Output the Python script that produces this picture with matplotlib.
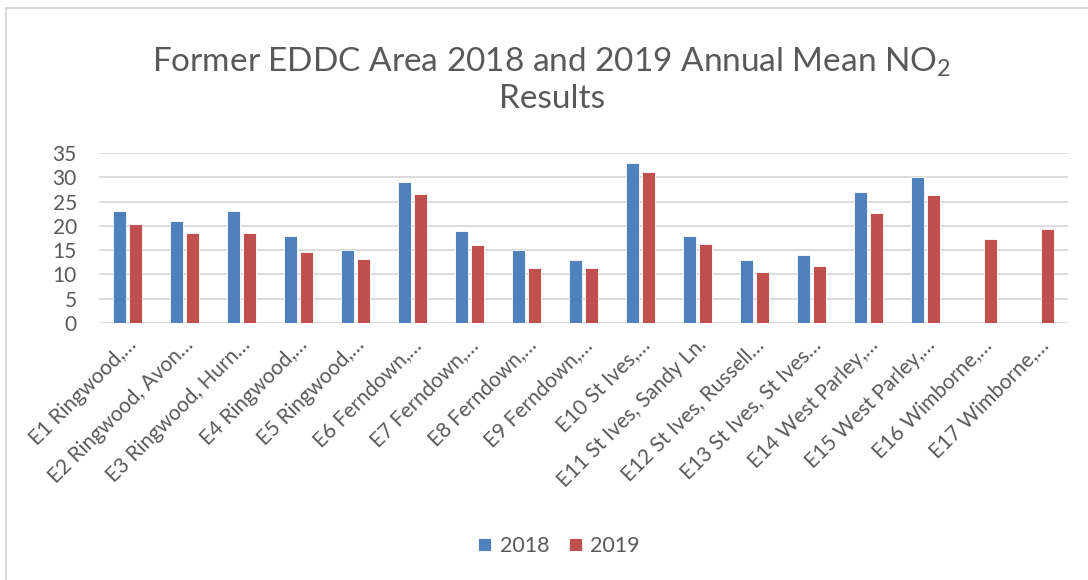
import numpy as np
import matplotlib
matplotlib.use("Agg")
import matplotlib.pyplot as plt
from matplotlib.lines import Line2D
from matplotlib.transforms import ScaledTranslation

plt.rcParams['font.family'] = ['Lato', 'DejaVu Sans']
plt.rcParams['mathtext.fontset'] = 'custom'
plt.rcParams['mathtext.rm'] = 'Lato'
plt.rcParams['mathtext.it'] = 'Lato'

sites = ["E1 Ringwood,…", "E2 Ringwood, Avon…", "E3 Ringwood, Hurn…",
         "E4 Ringwood,…", "E5 Ringwood,…", "E6 Ferndown,…", "E7 Ferndown,…",
         "E8 Ferndown,…", "E9 Ferndown,…", "E10 St Ives,…",
         "E11 St Ives, Sandy Ln.", "E12 St Ives, Russell…",
         "E13 St Ives, St Ives…", "E14 West Parley,…", "E15 West Parley,…",
         "E16 Wimborne,…", "E17 Wimborne,…"]
no2_2018 = [23, 21, 23, 18, 15, 29, 19, 15, 13, 33, 18, 13, 14, 27, 30, np.nan, np.nan]
no2_2019 = [20.4, 18.5, 18.5, 14.6, 13.2, 26.5, 16.1, 11.4, 11.3, 31.0, 16.2, 10.4, 11.7,
            22.6, 26.4, 17.3, 19.4]

text_col = "#595959"
grid_col = "#D9D9D9"

fig = plt.figure(figsize=(10.88, 5.8), dpi=100)
ax = fig.add_axes([99 / 1088, 1 - 323 / 580, (1068 - 99) / 1088, 170 / 580])

x = np.arange(len(sites))
w = 0.23
ax.bar(x - 0.14, no2_2018, w, color="#4F81BD", edgecolor="white", linewidth=0.6, label="2018", zorder=3)
ax.bar(x + 0.14, no2_2019, w, color="#C0504D", edgecolor="white", linewidth=0.6, label="2019", zorder=3)

ax.set_xlim(-0.5, len(sites) - 0.5)
ax.set_ylim(0, 35)
ax.set_yticks(range(0, 36, 5))
ax.yaxis.grid(True, color=grid_col, linewidth=1.3, zorder=0)
for s in ax.spines.values():
    s.set_visible(False)
ax.tick_params(length=0, colors=text_col, labelsize=15)
ax.tick_params(axis='y', pad=16)
ax.set_xticks(x)
ax.set_xticklabels(sites, rotation=45, ha='right', va='center', rotation_mode='anchor')
off = ScaledTranslation(6 / 100, -14 / 100, fig.dpi_scale_trans)
for lab in ax.get_xticklabels():
    lab.set_transform(lab.get_transform() + off)

fig.text(0.507, 1 - 80 / 580, "Former EDDC Area 2018 and 2019 Annual Mean NO$_2$\nResults",
         ha='center', va='center', fontsize=24, color=text_col, linespacing=1.2)

fig.legend(loc='center', bbox_to_anchor=(559 / 1088, 1 - 546 / 580), ncol=2, frameon=False,
           fontsize=15.5, labelcolor=text_col, handlelength=0.6, handleheight=0.6,
           handletextpad=0.4, columnspacing=0.9)

fig.add_artist(Line2D([6 / 1088, 6 / 1088], [0, 1 - 8 / 580], transform=fig.transFigure,
                      color=grid_col, linewidth=1.5))
fig.add_artist(Line2D([6 / 1088, 1], [1 - 8 / 580, 1 - 8 / 580], transform=fig.transFigure,
                      color=grid_col, linewidth=1.5))

fig.savefig("out.png", dpi=100, facecolor="white")
